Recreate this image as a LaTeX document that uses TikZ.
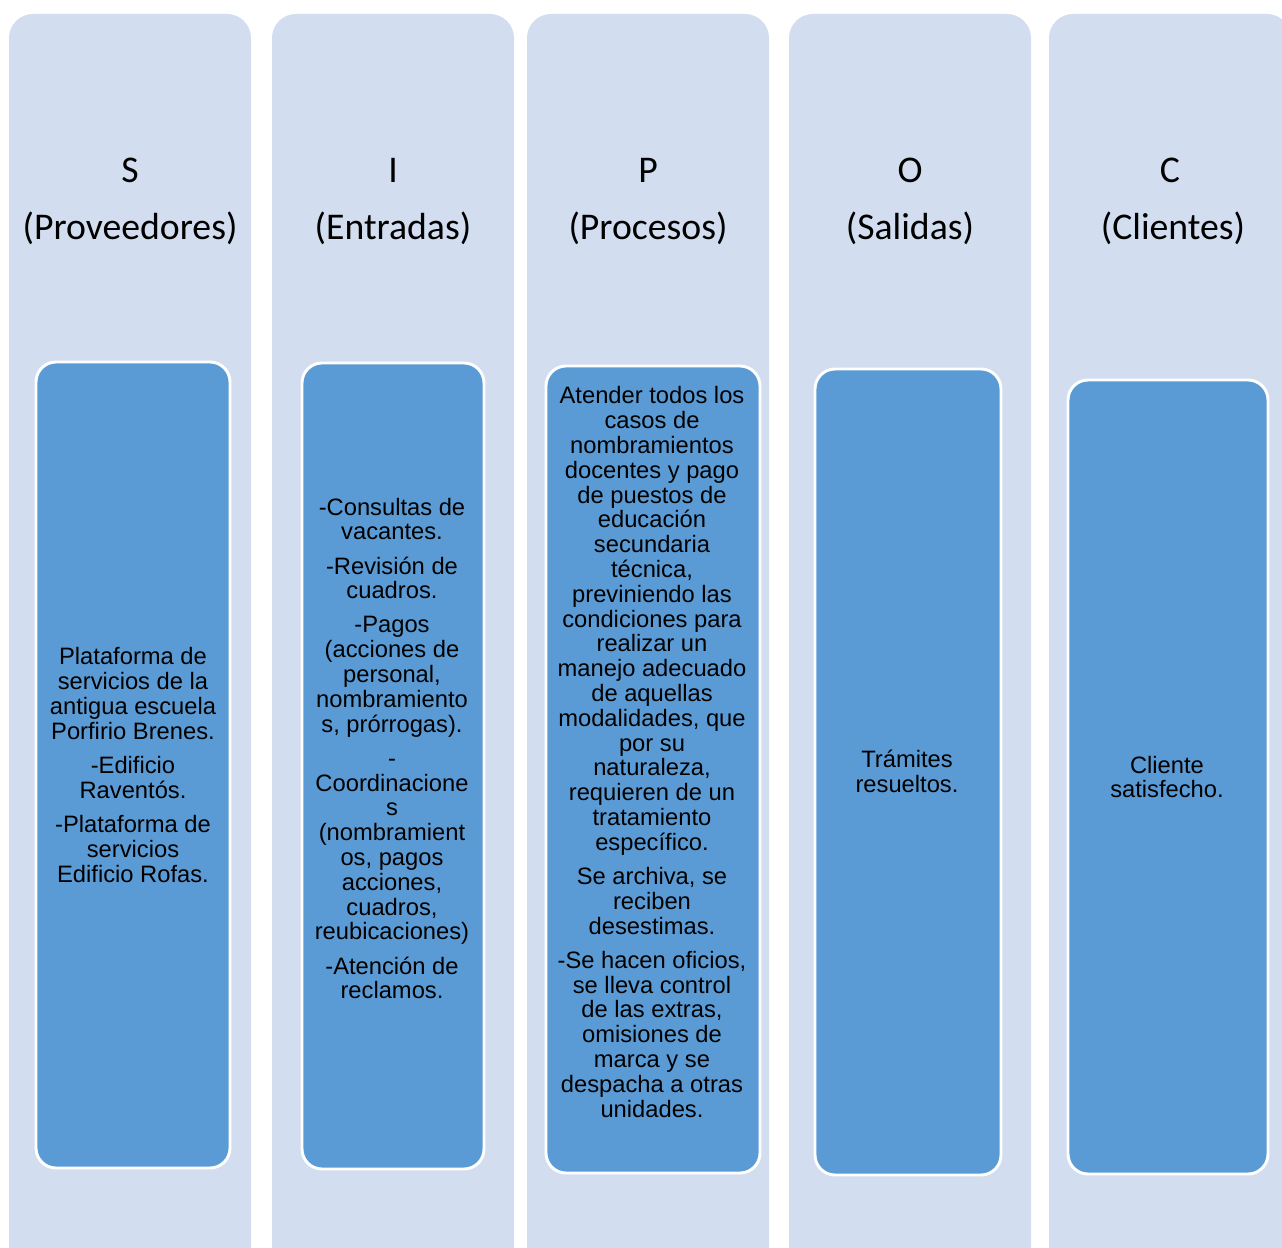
\documentclass[tikz,border=0pt]{standalone}
\usepackage{fontspec}
\setmainfont{Liberation Sans}
\newfontfamily\hdfont{Carlito}
\definecolor{colbg}{RGB}{210,222,239}
\definecolor{cellbg}{RGB}{91,155,213}
\begin{document}
\begin{tikzpicture}[x=0.75pt,y=-0.75pt,
  column/.style={fill=colbg, rounded corners=18pt},
  cell/.style={fill=cellbg, draw=white, line width=2.2pt, rounded corners=15pt},
  head/.style={font=\hdfont\fontsize{28.3}{30}\selectfont, anchor=base, inner sep=0pt},
  body/.style={font=\fontsize{17.8}{18.6}\selectfont, align=center, inner sep=0pt}]
\useasboundingbox (0,0) rectangle (1282,1248);
\clip (0,0) rectangle (1282,1248);

% background columns
\path[column] (9,14) rectangle (251,1275);
\path[column] (272,14) rectangle (514,1275);
\path[column] (527,14) rectangle (769,1275);
\path[column] (789,14) rectangle (1031,1275);
\path[column] (1049,14) rectangle (1291,1275);

% inner cells
\path[cell] (36,362) rectangle (230,1168);
\path[cell] (302,363) rectangle (484,1169);
\path[cell] (546,366) rectangle (760,1173);
\path[cell] (815,369) rectangle (1001,1175);
\path[cell] (1068,380) rectangle (1268,1174);

% column headings
\node[head] (sL) at (130,183) {S};
\node[head] (sT) at (130,240) {(Proveedores)};
\node[head] (iL) at (393,183) {I};
\node[head] (iT) at (393,240) {(Entradas)};
\node[head] (pL) at (648,183) {P};
\node[head] (pT) at (648,240) {(Procesos)};
\node[head] (oL) at (910,183) {O};
\node[head] (oT) at (910,240) {(Salidas)};
\node[head] (cL) at (1170,183) {C};
\node[head] (cT) at (1173,240) {(Clientes)};

% cell contents
\node[body] (sB) at (133,765) {Plataforma de\\servicios de la\\antigua escuela\\Porfirio Brenes.\\[7pt]
-Edificio\\Raventós.\\[7pt]
-Plataforma de\\servicios\\Edificio Rofas.};

\node[body] (iB) at (392,748.5) {-Consultas de\\vacantes.\\[7pt]
-Revisión de\\cuadros.\\[7pt]
-Pagos\\(acciones de\\personal,\\nombramiento\\s, prórrogas).\\[7pt]
-\\Coordinacione\\s\\(nombramient\\os, pagos\\acciones,\\cuadros,\\reubicaciones)\\[7pt]
-Atención de\\reclamos.};

\node[body] (pB) at (652,752) {Atender todos los\\casos de\\nombramientos\\docentes y pago\\de puestos de\\educación\\secundaria\\técnica,\\previniendo las\\condiciones para\\realizar un\\manejo adecuado\\de aquellas\\modalidades, que\\por su\\naturaleza,\\requieren de un\\tratamiento\\específico.\\[7pt]
Se archiva, se\\reciben\\desestimas.\\[7pt]
-Se hacen oficios,\\se lleva control\\de las extras,\\omisiones de\\marca y se\\despacha a otras\\unidades.};

\node[body] (oB) at (907,771.5) {Trámites\\resueltos.};
\node[body] (cB) at (1167,777) {Cliente\\satisfecho.};
\end{tikzpicture}
\end{document}
